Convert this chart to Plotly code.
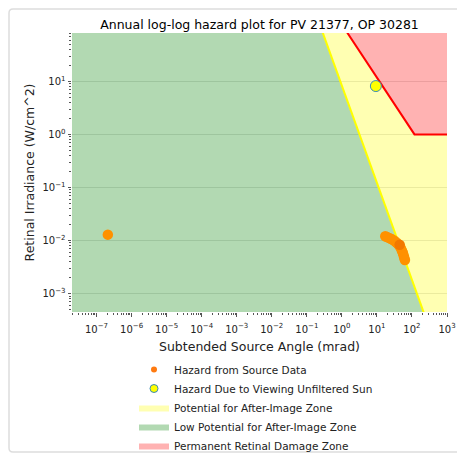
import numpy as np
import plotly.graph_objects as go

# Hazard from source data (subtended angle in mrad, retinal irradiance in W/cm^2)
source_angle = [2.1e-7, 17.3, 19.5, 22.0, 25.0, 28.5, 32.0, 36.0, 40.0, 44.0,
                48.0, 51.5, 55.0, 57.5, 60.0, 63.0, 44.5]
source_irr = [0.0129, 0.0120, 0.0116, 0.0112, 0.0108, 0.0103, 0.0098, 0.0092,
              0.0086, 0.0080, 0.0072, 0.0065, 0.0059, 0.0053, 0.0048, 0.0043, 0.0083]

# Unfiltered sun
sun_angle = [9.35]
sun_irr = [8.15]

# tick labels
x_exponents = [-7, -6, -5, -4, -3, -2, -1, 0, 1, 2, 3]
y_exponents = [-3, -2, -1, 0, 1]

# zone boundaries
after_image_coef = 8.30      # E = coef * w^-slope
after_image_slope = 1.83
burn_coef = 118.0            # E = coef / w, floor at 1 W/cm^2
burn_floor = 1.0

x_range = [-7.70, 3.0]
y_range = [-3.347, 1.911]


def sup(e):
    return "10<sup>" + str(e).replace("-", "\u2212") + "</sup>"


# extents a bit beyond the visible box, the plot clips them
x_lo, x_hi, y_lo, y_hi = 1e-9, 1e4, 1e-4, 1e3
w_yel_top = (after_image_coef / y_hi) ** (1 / after_image_slope)
w_yel_bot = (after_image_coef / y_lo) ** (1 / after_image_slope)
w_red_top = burn_coef / y_hi
w_knee = burn_coef / burn_floor

fig = go.Figure()

fig.add_trace(go.Scatter(
    x=[x_lo, x_lo, w_yel_top, w_yel_bot, x_lo], y=[y_lo, y_hi, y_hi, y_lo, y_lo],
    mode="lines", fill="toself", fillcolor="rgba(0,128,0,0.3)", line=dict(width=0),
    name="Low Potential for After-Image Zone", legendrank=4, hoverinfo="skip"))
fig.add_trace(go.Scatter(
    x=[w_yel_top, w_red_top, w_knee, x_hi, x_hi, w_yel_bot, w_yel_top],
    y=[y_hi, y_hi, burn_floor, burn_floor, y_lo, y_lo, y_hi],
    mode="lines", fill="toself", fillcolor="rgba(255,255,0,0.3)", line=dict(width=0),
    name="Potential for After-Image Zone", legendrank=3, hoverinfo="skip"))
fig.add_trace(go.Scatter(
    x=[w_red_top, x_hi, x_hi, w_knee, w_red_top], y=[y_hi, y_hi, burn_floor, burn_floor, y_hi],
    mode="lines", fill="toself", fillcolor="rgba(255,0,0,0.3)", line=dict(width=0),
    name="Permanent Retinal Damage Zone", legendrank=5, hoverinfo="skip"))

# boundary lines
fig.add_trace(go.Scatter(x=[w_yel_top, w_yel_bot], y=[y_hi, y_lo], mode="lines",
                         line=dict(color="yellow", width=2), showlegend=False))
fig.add_trace(go.Scatter(x=[w_red_top, w_knee, x_hi], y=[y_hi, burn_floor, burn_floor],
                         mode="lines", line=dict(color="red", width=2), showlegend=False))

colors = ["#FF9100"] * (len(source_angle) - 1) + ["#F27800"]
fig.add_trace(go.Scatter(x=source_angle, y=source_irr, mode="markers",
                         marker=dict(size=10.5, color=colors), showlegend=False))
fig.add_trace(go.Scatter(x=sun_angle, y=sun_irr, mode="markers",
                         marker=dict(size=11, color="yellow", line=dict(color="#3a8ab8", width=1)),
                         showlegend=False))

# legend entries with small markers
fig.add_trace(go.Scatter(x=[None], y=[None], mode="markers", name="Hazard from Source Data",
                         marker=dict(size=6, color="#FF7A10"), legendrank=1))
fig.add_trace(go.Scatter(x=[None], y=[None], mode="markers", name="Hazard Due to Viewing Unfiltered Sun",
                         marker=dict(size=8, color="yellow", line=dict(color="#3a8ab8", width=1)),
                         legendrank=2))

# page body has an 8px margin, so the figure is drawn 8px in from the window corner
W, H, OFF = 457, 447, 8


# window pixel -> paper coords (plot area is 72..447 x 33..312 in window pixels)
def px_x(p):
    return (p - 72) / 375


def px_y(p):
    return (312 - p) / 279


x0, x1, yt, yb = px_x(9), px_x(463), px_y(9), px_y(452)
rx, ry = 4 / 375, 4 / 279
frame = (f"M {x0+rx},{yt} L {x1-rx},{yt} Q {x1},{yt} {x1},{yt-ry} L {x1},{yb+ry} "
         f"Q {x1},{yb} {x1-rx},{yb} L {x0+rx},{yb} Q {x0},{yb} {x0},{yb+ry} "
         f"L {x0},{yt-ry} Q {x0},{yt} {x0+rx},{yt} Z")

tick_col = "#555555"
fig.update_layout(
    width=W, height=H,
    margin=dict(l=72 - OFF, r=18, t=33 - OFF, b=143, autoexpand=False),
    paper_bgcolor="white", plot_bgcolor="white",
    font=dict(family="DejaVu Sans", color="#222222", size=11),
    title=dict(text="Annual log-log hazard plot for PV 21377, OP 30281",
               x=0.5, xref="paper", xanchor="center", y=1 - (25 - OFF) / H, yanchor="middle",
               font=dict(size=12.5, color="black")),
    xaxis=dict(type="log", range=x_range, automargin=False,
               tickvals=[10.0 ** e for e in x_exponents], ticktext=[sup(e) for e in x_exponents],
               showgrid=False, zeroline=False, showline=False,
               ticks="outside", ticklen=3.5, tickwidth=0.8, tickcolor=tick_col,
               tickfont=dict(size=10), ticklabelstandoff=4,
               minor=dict(ticks="outside", ticklen=2, tickwidth=0.6, tickcolor=tick_col,
                          dtick="D1", showgrid=False),
               title=dict(text="Subtended Source Angle (mrad)", font=dict(size=12.5), standoff=8)),
    yaxis=dict(type="log", range=y_range, automargin=False,
               tickvals=[10.0 ** e for e in y_exponents], ticktext=[sup(e) for e in y_exponents],
               showgrid=True, gridcolor="#e2e2e2", gridwidth=1, zeroline=False, showline=False,
               ticks="outside", ticklen=3.5, tickwidth=0.8, tickcolor=tick_col,
               tickfont=dict(size=10),
               minor=dict(ticks="outside", ticklen=2, tickwidth=0.6, tickcolor=tick_col,
                          dtick="D1", showgrid=False),
               title=dict(text="Retinal Irradiance (W/cm^2)", font=dict(size=12.5), standoff=5)),
    legend=dict(x=(134 - 72) / 375, xanchor="left", y=px_y(355), yanchor="top",
                bgcolor="rgba(0,0,0,0)", font=dict(size=10.5), tracegroupgap=0, itemwidth=30),
    shapes=[dict(type="path", path=frame, xref="paper", yref="paper",
                 line=dict(color="#dddddd", width=1.5), layer="below")],
)

fig.write_html("out.html")
